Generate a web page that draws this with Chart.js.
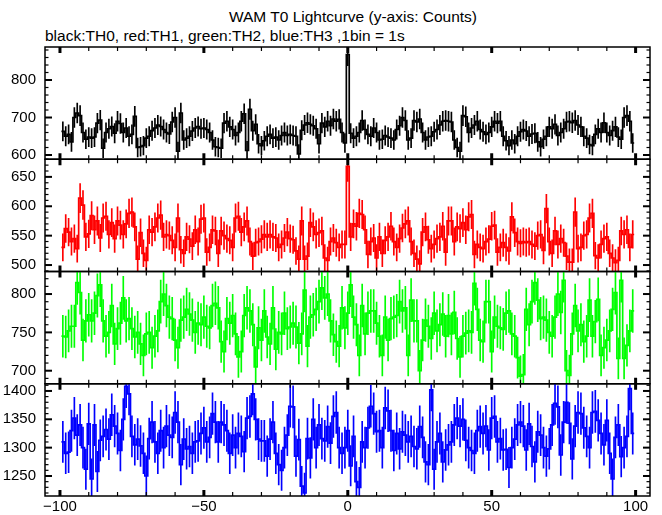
<!DOCTYPE html>
<html>
<head>
<meta charset="utf-8">
<title>WAM T0 Lightcurve</title>
<script src="https://cdn.jsdelivr.net/npm/chart.js@4.4.1/dist/chart.umd.min.js"></script>
<style>
  html, body { margin: 0; padding: 0; background: #fff; }
  #fig { position: relative; width: 662px; height: 515px; overflow: hidden;
         font-family: "Liberation Sans", Arial, Helvetica, sans-serif; color: #000; }
  #fig canvas { position: absolute; left: 0; top: 0; }
  .txt { position: absolute; white-space: nowrap; font-size: 15.5px; line-height: 20px; }
  #title { left: 353px; top: 7px; transform: translateX(-50%); }
  #subtitle { left: 45px; top: 26px; }
</style>
</head>
<body>
<div id="fig">
  <div class="txt" id="title">WAM T0 Lightcurve (y-axis: Counts)</div>
  <div class="txt" id="subtitle">black:TH0, red:TH1, green:TH2, blue:TH3 ,1bin = 1s</div>
  <canvas id="c_th0" width="662" height="515"></canvas>
  <canvas id="c_th1" width="662" height="515"></canvas>
  <canvas id="c_th2" width="662" height="515"></canvas>
  <canvas id="c_th3" width="662" height="515"></canvas>
</div>
<script>
// Curvas de luz WAM alrededor de T0: 4 canales (TH0..TH3), bins de 1 s, cuentas por bin

// centro de cada bin (s respecto a T0)
const binTimes = [
  -99,-98,-97,-96,-95,-94,-93,-92,-91,-90,-89,-88,-87,-86,-85,-84,-83,-82,-81,-80,
  -79,-78,-77,-76,-75,-74,-73,-72,-71,-70,-69,-68,-67,-66,-65,-64,-63,-62,-61,-60,
  -59,-58,-57,-56,-55,-54,-53,-52,-51,-50,-49,-48,-47,-46,-45,-44,-43,-42,-41,-40,
  -39,-38,-37,-36,-35,-34,-33,-32,-31,-30,-29,-28,-27,-26,-25,-24,-23,-22,-21,-20,
  -19,-18,-17,-16,-15,-14,-13,-12,-11,-10,-9,-8,-7,-6,-5,-4,-3,-2,-1,
  0,
  1,2,3,4,5,6,7,8,9,10,11,12,13,14,15,16,17,18,19,20,
  21,22,23,24,25,26,27,28,29,30,31,32,33,34,35,36,37,38,39,40,
  41,42,43,44,45,46,47,48,49,50,51,52,53,54,55,56,57,58,59,60,
  61,62,63,64,65,66,67,68,69,70,71,72,73,74,75,76,77,78,79,80,
  81,82,83,84,85,86,87,88,89,90,91,92,93,94,95,96,97,98,99
];

// TH0 (negro)
const th0 = [
  663,650,655,635,700,712,705,660,642,648,
  645,648,685,693,618,660,670,676,658,690,
  684,660,672,650,655,703,620,622,625,645,
  650,665,672,680,676,668,660,656,688,700,
  610,712,640,645,650,664,672,676,670,672,
  668,660,640,622,620,618,685,690,675,668,
  652,660,690,710,612,722,665,682,630,625,
  638,650,655,645,648,640,652,660,652,655,
  652,650,603,666,680,686,682,678,670,630,
  685,675,690,678,696,690,695,660,632,
  868,
  658,645,650,660,692,668,655,650,672,660,
  640,642,652,648,645,640,668,678,700,692,
  640,645,692,688,696,660,640,648,650,662,
  668,680,690,692,690,688,640,620,610,705,
  702,660,672,680,690,668,662,655,660,675,
  690,685,690,650,638,625,640,630,650,662,
  668,664,650,656,658,635,622,642,650,675,
  670,682,652,660,670,688,690,686,692,680,
  675,650,645,628,625,655,670,660,686,660,
  652,665,675,648,642,700,705,690,632
];

// TH1 (rojo)
const th1 = [
  530,562,556,540,545,528,614,602,548,553,
  584,560,575,546,580,583,552,572,545,575,
  568,552,570,588,590,565,510,555,520,508,
  560,556,565,580,585,548,552,550,542,530,
  580,526,520,548,544,532,560,540,578,580,
  522,530,560,558,520,558,550,545,542,530,
  580,583,556,565,575,540,515,538,540,544,
  552,548,552,548,546,530,535,546,556,545,
  543,524,510,575,510,515,572,565,552,555,
  558,512,508,540,546,538,530,535,535,
  668,
  548,570,566,588,586,560,518,540,546,512,
  548,520,542,548,566,540,530,545,563,570,
  575,540,520,510,502,556,565,543,528,535,
  545,548,566,522,575,575,540,565,562,572,
  560,582,586,518,535,530,528,540,544,566,
  568,522,530,538,530,524,582,555,540,537,
  540,538,540,535,532,550,552,525,596,540,
  520,558,535,545,538,515,505,505,590,528,
  530,550,552,580,588,516,512,535,545,548,
  520,512,504,508,558,552,560,530,552
];

// TH2 (verde)
const th2 = [
  745,744,752,758,758,815,802,740,765,773,
  765,775,798,812,765,745,750,785,735,755,
  762,795,765,768,755,744,750,735,720,748,
  750,730,745,752,790,800,785,770,768,740,
  730,766,770,780,774,766,750,762,760,770,
  758,756,785,788,782,738,725,768,762,772,
  748,718,725,772,782,778,760,705,756,740,
  778,744,735,782,728,750,748,775,755,757,
  762,757,736,748,805,732,770,773,780,790,
  808,795,800,765,747,738,732,782,756,
  775,
  812,770,760,720,785,748,775,778,778,762,
  745,720,770,740,768,770,772,790,778,782,
  720,792,765,765,700,740,766,758,742,775,
  752,760,774,745,772,748,776,742,718,745,
  749,752,750,814,780,740,738,790,790,725,
  770,758,756,754,775,778,748,745,717,693,
  695,780,760,790,815,792,768,770,766,750,
  745,770,800,776,818,700,694,748,785,752,
  760,738,745,792,745,764,793,720,730,740,
  752,780,802,716,818,716,733,752,778
];

// TH3 (azul)
const th3 = [
  1310,1290,1292,1330,1352,1322,1340,1300,1262,1342,
  1245,1340,1258,1313,1320,1332,1315,1358,1338,1325,
  1295,1350,1408,1395,1320,1305,1315,1303,1290,1250,
  1316,1345,1310,1290,1330,1300,1338,1322,1318,1362,
  1345,1270,1315,1298,1302,1290,1310,1312,1325,1335,
  1310,1318,1360,1345,1310,1345,1340,1330,1290,1322,
  1300,1325,1320,1293,1352,1355,1395,1350,1315,1312,
  1312,1285,1315,1345,1290,1270,1260,1300,1322,1373,
  1372,1285,1314,1232,1220,1316,1282,1350,1300,1340,
  1316,1312,1337,1308,1355,1362,1300,1290,1300,
  1330,
  1268,1320,1240,1230,1310,1300,1335,1373,1360,1328,
  1330,1300,1370,1365,1330,1295,1325,1298,1328,1322,
  1310,1320,1302,1298,1337,1318,1275,1270,1402,1262,
  1310,1325,1275,1296,1305,1310,1340,1352,1338,1350,
  1313,1300,1295,1290,1330,1337,1325,1338,1296,1352,
  1355,1310,1316,1296,1297,1265,1300,1315,1340,1345,
  1338,1296,1342,1302,1275,1328,1322,1300,1285,1298,
  1340,1378,1372,1287,1345,1380,1343,1280,1338,1362,
  1360,1335,1320,1300,1362,1364,1348,1325,1305,1348,
  1290,1245,1318,1340,1284,1300,1320,1404,1325
];

// marcas con etiqueta
const xTickValues = [-100, -50, 0, 50, 100];
const yTicksTh0 = [600, 700, 800];
const yTicksTh1 = [500, 550, 600, 650];
const yTicksTh2 = [700, 750, 800];
const yTicksTh3 = [1250, 1300, 1350, 1400];

const FONT = { family: '"Liberation Sans", Arial, Helvetica, sans-serif', size: 15 };
const minus = v => String(v).replace('-', '\u2212');

// histograma: cada bin ocupa [t-0.5, t+0.5]
function stepPoints(times, counts){
  const pts = times.map((t, i) => ({ x: t - 0.5, y: counts[i] }));
  const n = times.length - 1;
  pts.push({ x: times[n] + 0.5, y: counts[n] });
  return pts;
}
// barras de error poissonianas
function errorBars(times, counts){
  return times.map((t, i) => { const e = Math.sqrt(counts[i]); return { x: t, y: [counts[i] - e, counts[i] + e] }; });
}

// marco del panel + ticks hacia dentro en los 4 lados
function frameTicks(minorStep, majorStep){
  return {
    id: 'frameTicks',
    afterDatasetsDraw(chart){
      const { ctx, chartArea: a, scales: { x, y } } = chart;
      const seg = (x1, y1, x2, y2, w) => { ctx.lineWidth = w; ctx.beginPath(); ctx.moveTo(x1, y1); ctx.lineTo(x2, y2); ctx.stroke(); };
      ctx.save();
      ctx.strokeStyle = '#000';
      for (let v = xTickValues[0]; v <= xTickValues[xTickValues.length - 1]; v += 10){
        const px = x.getPixelForValue(v);
        const major = xTickValues.includes(v);
        const len = major ? 6 : 4, w = major ? 3 : 1.2;
        seg(px, a.top, px, a.top + len, w);
        seg(px, a.bottom, px, a.bottom - len, w);
      }
      for (let v = Math.ceil(y.min / minorStep) * minorStep; v <= y.max; v += minorStep){
        const py = y.getPixelForValue(v);
        const major = v % majorStep === 0;
        const len = major ? 7 : 3.5, w = major ? 2 : 1.2;
        seg(a.left, py, a.left + len, py, w);
        seg(a.right, py, a.right - len, py, w);
      }
      ctx.lineWidth = 1.5;
      ctx.strokeRect(a.left, a.top, a.right - a.left, a.bottom - a.top);
      ctx.restore();
    }
  };
}

function makePanel(p){
  const xScale = {
    type: 'linear', min: -105.2, max: 105, offset: false, display: !!p.showX,
    grid: { display: false, drawTicks: false }, border: { display: false },
    afterBuildTicks: s => { s.ticks = xTickValues.map(v => ({ value: v })); },
    ticks: { font: FONT, color: '#000', padding: 2, maxRotation: 0, autoSkip: false, callback: v => minus(v) }
  };
  if (p.showX) xScale.afterFit = s => { s.height = 515 - p.bottom; };

  return new Chart(document.getElementById(p.id), {
    type: 'line',
    data: { datasets: [
      { type: 'line', label: p.label, data: stepPoints(binTimes, p.counts), stepped: true,
        borderColor: p.color, borderWidth: 1.7, pointRadius: 0, fill: false, order: 1 },
      { type: 'bar', label: p.label + ' err', data: errorBars(binTimes, p.counts),
        backgroundColor: p.color, borderWidth: 0, barThickness: 1, grouped: false, order: 2 }
    ]},
    options: {
      responsive: false, animation: false, events: [], devicePixelRatio: 1,
      layout: { padding: { top: p.top, bottom: p.showX ? 0 : 515 - p.bottom, left: 0, right: 12 } },
      plugins: { legend: { display: false }, tooltip: { enabled: false } },
      scales: {
        x: xScale,
        y: {
          type: 'linear', min: p.yMin, max: p.yMax, beginAtZero: false,
          grid: { display: false, drawTicks: false }, border: { display: false },
          afterBuildTicks: s => { s.ticks = p.yTicks.map(v => ({ value: v })); },
          afterFit: s => { s.width = 45; },
          ticks: { font: FONT, color: '#000', padding: 9, autoSkip: false, callback: v => String(v) }
        }
      }
    },
    plugins: [frameTicks(p.minor, p.major)]
  });
}

makePanel({ id: 'c_th0', label: 'TH0', counts: th0, color: '#000000', yMin: 588.7, yMax: 888,  yTicks: yTicksTh0, minor: 20, major: 100, top: 47,     bottom: 159.25 });
makePanel({ id: 'c_th1', label: 'TH1', counts: th1, color: '#ff0000', yMin: 489,   yMax: 680,  yTicks: yTicksTh1, minor: 10, major: 50,  top: 159.25, bottom: 271.5 });
makePanel({ id: 'c_th2', label: 'TH2', counts: th2, color: '#00ff00', yMin: 683,   yMax: 829.4, yTicks: yTicksTh2, minor: 10, major: 50, top: 271.5,  bottom: 383.75 });
makePanel({ id: 'c_th3', label: 'TH3', counts: th3, color: '#0000ff', yMin: 1214.7, yMax: 1412.7, yTicks: yTicksTh3, minor: 10, major: 50, top: 383.75, bottom: 496, showX: true });
</script>
</body>
</html>
